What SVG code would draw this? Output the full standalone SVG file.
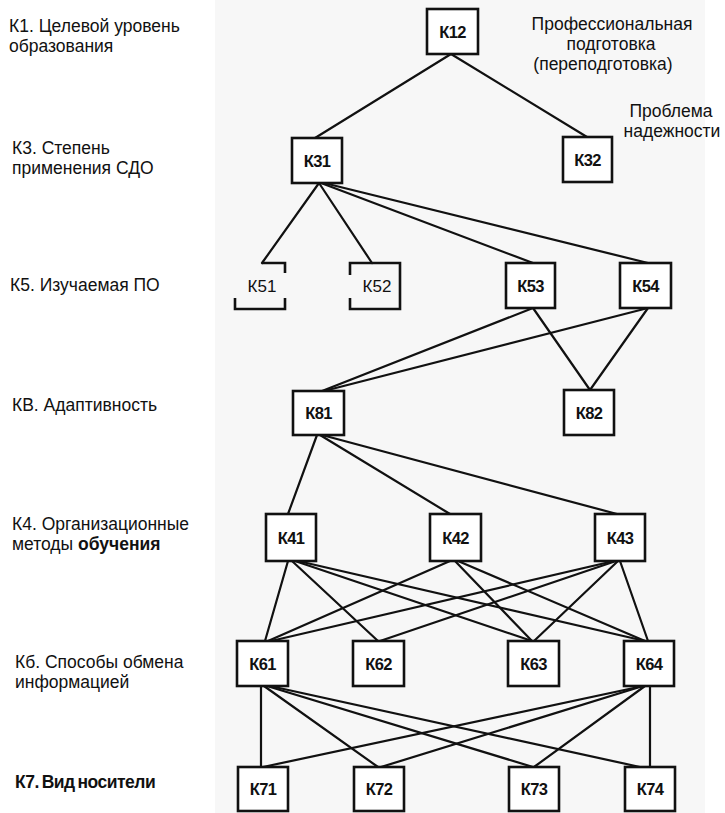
<svg xmlns="http://www.w3.org/2000/svg" width="725" height="813" viewBox="0 0 725 813">
<style>
.lbl{font-family:"Liberation Sans",Arial,sans-serif;font-size:17.5px;fill:#111}
.b{font-weight:bold}
.box{fill:#fff;stroke:#111;stroke-width:2.6}
.nt{font-family:"Liberation Sans",Arial,sans-serif;font-size:16.5px;font-weight:bold;fill:#111;text-anchor:middle;letter-spacing:-0.6px}
.nr{font-family:"Liberation Sans",Arial,sans-serif;font-size:17px;fill:#111;text-anchor:middle}
.edges line{stroke:#111;stroke-width:2.2;stroke-linecap:round}
.part{fill:none;stroke:#111;stroke-width:2.6}
</style>
<rect x="0" y="0" width="725" height="813" fill="#fff"/>
<rect x="215" y="0" width="490" height="813" fill="#f7f7f7"/>

<g id="labels">
<text class="lbl" x="9" y="32">К1. Целевой уровень</text>
<text class="lbl" x="9" y="52">образования</text>
<text class="lbl" x="12" y="154">К3. Степень</text>
<text class="lbl" x="12" y="174">применения СДО</text>
<text class="lbl" x="10" y="291">К5. Изучаемая ПО</text>
<text class="lbl" x="12" y="411">КВ. Адаптивность</text>
<text class="lbl" x="12" y="530">К4. Организационные</text>
<text class="lbl" x="12" y="550">методы <tspan class="b">обучения</tspan></text>
<text class="lbl" x="15" y="668">Кб. Способы обмена</text>
<text class="lbl" x="15" y="688">информацией</text>
<text class="lbl b" x="15" y="788" letter-spacing="-0.5" word-spacing="-1.5">К7. Вид носители</text>
<text class="lbl" x="612" y="30" text-anchor="middle">Профессиональная</text>
<text class="lbl" x="611" y="50" text-anchor="middle">подготовка</text>
<text class="lbl" x="603" y="70" text-anchor="middle">(переподготовка)</text>
<text class="lbl" x="671" y="117" text-anchor="middle">Проблема</text>
<text class="lbl" x="672" y="137" text-anchor="middle">надежности</text>
</g>

<g class="edges" id="connectors">
<line x1="451" y1="54" x2="315" y2="138"/>
<line x1="451" y1="54" x2="587" y2="137"/>
<line x1="319" y1="183" x2="262" y2="263"/>
<line x1="319" y1="183" x2="372" y2="263"/>
<line x1="321" y1="183" x2="533" y2="263"/>
<line x1="324" y1="183" x2="648" y2="263"/>
<line x1="533" y1="308" x2="322" y2="391"/>
<line x1="648" y1="308" x2="324" y2="391"/>
<line x1="533" y1="308" x2="590" y2="390"/>
<line x1="648" y1="308" x2="590" y2="390"/>
<line x1="317" y1="435" x2="288" y2="514"/>
<line x1="320" y1="435" x2="450" y2="514"/>
<line x1="322" y1="435" x2="617" y2="514"/>
<line x1="288" y1="561" x2="265" y2="641"/>
<line x1="292" y1="561" x2="378" y2="641"/>
<line x1="295" y1="561" x2="532" y2="641"/>
<line x1="298" y1="561" x2="645" y2="641"/>
<line x1="450" y1="561" x2="268" y2="641"/>
<line x1="455" y1="561" x2="532" y2="641"/>
<line x1="458" y1="561" x2="645" y2="641"/>
<line x1="614" y1="561" x2="271" y2="641"/>
<line x1="616" y1="561" x2="380" y2="641"/>
<line x1="618" y1="561" x2="534" y2="641"/>
<line x1="620" y1="561" x2="648" y2="641"/>
<line x1="261" y1="686" x2="261" y2="767"/>
<line x1="264" y1="686" x2="378" y2="767"/>
<line x1="267" y1="686" x2="533" y2="767"/>
<line x1="270" y1="686" x2="640" y2="767"/>
<line x1="643" y1="686" x2="263" y2="767"/>
<line x1="643" y1="686" x2="381" y2="767"/>
<line x1="645" y1="686" x2="534" y2="767"/>
<line x1="650" y1="686" x2="650" y2="767"/>
</g>

<g id="K12"><rect class="box" x="427" y="9" width="51" height="45"/><text class="nt" x="452.5" y="38">К12</text></g>
<g id="K31"><rect class="box" x="292" y="138" width="50" height="45"/><text class="nt" x="317" y="167">К31</text></g>
<g id="K32"><rect class="box" x="563" y="137" width="49" height="45"/><text class="nt" x="587.5" y="166">К32</text></g>
<g id="K51"><path class="part" d="M262,263 H285 V273 M235,298 V309 H285 V298"/><text class="nr" x="262" y="292">К51</text></g>
<g id="K52"><path class="part" d="M350,275 V263 H400 V309 H350 V298"/><text class="nr" x="377" y="292">К52</text></g>
<g id="K53"><rect class="box" x="506" y="263" width="49" height="45"/><text class="nt" x="530.5" y="292">К53</text></g>
<g id="K54"><rect class="box" x="620" y="263" width="51" height="45"/><text class="nt" x="645.5" y="292">К54</text></g>
<g id="K81"><rect class="box" x="293" y="391" width="51" height="44"/><text class="nt" x="318.5" y="419">К81</text></g>
<g id="K82"><rect class="box" x="564" y="390" width="50" height="45"/><text class="nt" x="589" y="419">К82</text></g>
<g id="K41"><rect class="box" x="266" y="514" width="50" height="47"/><text class="nt" x="291" y="544">К41</text></g>
<g id="K42"><rect class="box" x="430" y="514" width="51" height="47"/><text class="nt" x="455.5" y="544">К42</text></g>
<g id="K43"><rect class="box" x="595" y="514" width="50" height="47"/><text class="nt" x="620" y="544">К43</text></g>
<g id="K61"><rect class="box" x="237" y="641" width="51" height="45"/><text class="nt" x="262.5" y="670">К61</text></g>
<g id="K62"><rect class="box" x="353" y="641" width="51" height="45"/><text class="nt" x="378.5" y="670">К62</text></g>
<g id="K63"><rect class="box" x="508" y="641" width="51" height="45"/><text class="nt" x="533.5" y="670">К63</text></g>
<g id="K64"><rect class="box" x="624" y="641" width="50" height="45"/><text class="nt" x="649" y="670">К64</text></g>
<g id="K71"><rect class="box" x="238" y="767" width="50" height="44"/><text class="nt" x="263" y="795">К71</text></g>
<g id="K72"><rect class="box" x="354" y="767" width="50" height="44"/><text class="nt" x="379" y="795">К72</text></g>
<g id="K73"><rect class="box" x="509" y="767" width="50" height="44"/><text class="nt" x="534" y="795">К73</text></g>
<g id="K74"><rect class="box" x="625" y="767" width="50" height="44"/><text class="nt" x="650" y="795">К74</text></g>
</svg>
